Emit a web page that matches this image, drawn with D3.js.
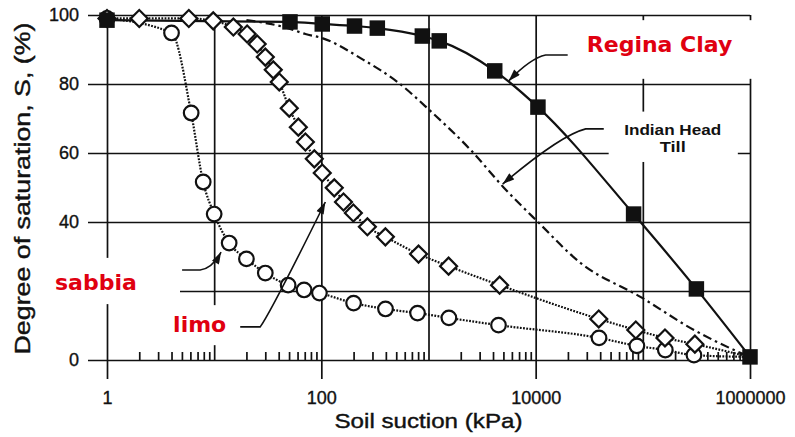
<!DOCTYPE html>
<html>
<head>
<meta charset="utf-8">
<script src="https://cdn.jsdelivr.net/npm/d3@7"></script>
<style>
  body { margin: 0; background: #fff; }
  svg { display: block; }
  .axis text { font-family: "Liberation Sans", Arial, sans-serif; fill: #111; stroke: #111; stroke-width: 0.35; }
  .axis line { stroke: #111; stroke-width: 1.7; }
  .title { font-family: "Liberation Sans", Arial, sans-serif; fill: #111; stroke: #111; stroke-width: 0.4; }
  .red-label { font-family: "DejaVu Sans", Verdana, sans-serif; font-weight: bold; fill: #e00010; }
</style>
</head>
<body>
<div id="container"></div>
<script>
// Regina Clay (filled squares, solid line)
const reginaSuction = [1, 51, 102, 204, 333, 876, 1260, 4150, 10500, 82000, 316000, 1000000];
const reginaSat = [98.5, 98, 97.4, 96.8, 96.2, 93.9, 92.5, 83.8, 73.3, 42.3, 20.6, 0.9];

// limo (open diamonds, dotted line)
const siltSuction = [1, 2, 5.8, 9.8, 15.1, 20.3, 25.2, 30, 35.6, 40.5, 50.2, 61, 71, 86, 102, 132, 161, 199, 269, 396, 807, 1540, 4610, 38800, 86000, 161000, 306000];
const siltSat = [99, 99, 99, 98.3, 96.5, 94.5, 91.6, 87.8, 84.1, 80.6, 73, 67.5, 63.2, 58.3, 54.2, 49.9, 45.8, 42.6, 38.6, 35.7, 30.7, 27.2, 21.7, 11.9, 8.7, 6.4, 4.6];

// sabbia (open circles, dotted line)
const sandSuction = [1, 4, 6.1, 7.9, 10, 13.8, 20, 30, 49, 69, 96, 200, 397, 790, 1550, 4500, 39000, 88000, 162000, 300000];
const sandSat = [99, 94.8, 71.6, 51.6, 42.3, 33.9, 29.3, 25.2, 21.7, 20.3, 19.4, 16.5, 14.8, 13.6, 12.2, 10.1, 6.4, 4.1, 2.9, 1.4];

// Indian Head Till (dash-dot line, no markers)
const tillSuction = [20, 45, 71, 102, 247, 513, 1040, 2470, 5000, 10500, 26300, 95000, 300000, 710000, 1000000];
const tillSat = [98.5, 96.5, 94.5, 93.3, 87, 80.6, 72.2, 60.9, 50.1, 40, 28.1, 18.3, 8.7, 2.9, 0.9];

// dotted curves all run into the last Regina point
const endSuction = 1000000;
const endSat = 0.9;

const yTicks = [0, 20, 40, 60, 80, 100];
const yLabels = [0, 40, 60, 80, 100];   // 20 is covered by the "sabbia" label in the original
const xLabelTicks = [1, 100, 10000, 1000000];
const xGridTicks = [10, 1000, 100000];

const width = 795, height = 437;
const margin = { top: 15, right: 45, bottom: 77, left: 107 };
const stub = 19;

const svg = d3.select('#container').append('svg')
  .attr('width', width)
  .attr('height', height);

const x = d3.scaleLog().domain([1, 1e6]).range([margin.left, width - margin.right]);
const y = d3.scaleLinear().domain([0, 100]).range([height - margin.bottom, margin.top]);

const x0 = margin.left - stub;
const xEnd = x(1e6);
const yBottom = y(0);

// horizontal grid + y labels
svg.append('g')
  .attr('class', 'axis')
  .attr('transform', `translate(${x0},0)`)
  .call(d3.axisLeft(y).tickValues(yTicks)
    .tickFormat(d => yLabels.includes(d) ? d : '')
    .tickSize(-(xEnd - x0)).tickPadding(9))
  .call(g => g.select('.domain').remove())
  .call(g => g.selectAll('text').filter(d => !yLabels.includes(d)).remove())
  .selectAll('text')
  .style('font-size', '18px');

// labelled decades, lines run below the axis
svg.append('g')
  .attr('class', 'axis')
  .attr('transform', `translate(0,${yBottom + stub})`)
  .call(d3.axisBottom(x).tickValues(xLabelTicks).tickFormat(d3.format('d'))
    .tickSize(-(yBottom + stub - margin.top)).tickPadding(12))
  .call(g => g.select('.domain').remove())
  .selectAll('text')
  .style('font-size', '18px');

// other decades
svg.append('g')
  .attr('class', 'axis')
  .attr('transform', `translate(0,${yBottom})`)
  .call(d3.axisBottom(x).tickValues(xGridTicks).tickFormat('').tickSize(-(yBottom - margin.top)))
  .call(g => g.select('.domain').remove());

// minor ticks
const minor = [];
for (let d = 1; d < 1e6; d *= 10) {
  for (let k = 2; k <= 9; k++) minor.push(d * k);
}
svg.append('g')
  .attr('class', 'axis')
  .attr('transform', `translate(0,${yBottom})`)
  .call(d3.axisBottom(x).tickValues(minor).tickFormat('').tickSize(-8))
  .call(g => g.select('.domain').remove());

// axis titles
svg.append('text')
  .attr('class', 'title')
  .attr('x', (x(1) + xEnd) / 2)
  .attr('y', 428)
  .attr('text-anchor', 'middle')
  .attr('textLength', 188)
  .attr('lengthAdjust', 'spacingAndGlyphs')
  .style('font-size', '21px')
  .text('Soil suction (kPa)');

svg.append('text')
  .attr('class', 'title')
  .attr('transform', `translate(30,${(y(0) + y(100)) / 2 + 1}) rotate(-90)`)
  .attr('text-anchor', 'middle')
  .attr('textLength', 332)
  .attr('lengthAdjust', 'spacingAndGlyphs')
  .style('font-size', '22px')
  .text('Degree of saturation, S, (%)');

// white patches that sit over the grid behind the labels
const patches = [
  { x1: 23000, x2: 1.3e6, y1: 98.5, y2: 81.5 },
  { x1: 48000, x2: 770000, y1: 72, y2: 57.4 },
  { x1: 0.237, x2: 4.8, y1: 29.6, y2: 16.2 },
  { x1: 3.5, x2: 16, y1: 15.9, y2: 4.3 }
];
svg.append('g')
  .selectAll('rect')
  .data(patches)
  .enter()
  .append('rect')
  .attr('x', d => x(d.x1))
  .attr('y', d => y(d.y1))
  .attr('width', d => x(d.x2) - x(d.x1))
  .attr('height', d => y(d.y2) - y(d.y1))
  .attr('fill', '#fff');

// data lines
const toPts = (xs, ys) => xs.map((v, i) => [v, ys[i]]);
const line = d3.line()
  .x(d => x(d[0]))
  .y(d => y(d[1]))
  .curve(d3.curveMonotoneX);

const reginaPts = toPts(reginaSuction, reginaSat);
const siltPts = toPts(siltSuction, siltSat);
const sandPts = toPts(sandSuction, sandSat);
const tillPts = toPts(tillSuction, tillSat);

svg.append('path')
  .attr('d', line(tillPts))
  .attr('fill', 'none')
  .attr('stroke', '#111')
  .attr('stroke-width', 2.2)
  .attr('stroke-dasharray', '9,4,2.5,4');

svg.append('path')
  .attr('d', line(sandPts.concat([[endSuction, endSat]])))
  .attr('fill', 'none')
  .attr('stroke', '#111')
  .attr('stroke-width', 2.2)
  .attr('stroke-dasharray', '1.8,1.4');

svg.append('path')
  .attr('d', line(siltPts.concat([[endSuction, endSat]])))
  .attr('fill', 'none')
  .attr('stroke', '#111')
  .attr('stroke-width', 2.2)
  .attr('stroke-dasharray', '1.8,1.4');

svg.append('path')
  .attr('d', line(reginaPts))
  .attr('fill', 'none')
  .attr('stroke', '#111')
  .attr('stroke-width', 2.2);

// markers
svg.append('g')
  .selectAll('circle')
  .data(sandPts)
  .enter()
  .append('circle')
  .attr('cx', d => x(d[0]))
  .attr('cy', d => y(d[1]))
  .attr('r', 7.3)
  .attr('fill', '#fff')
  .attr('stroke', '#111')
  .attr('stroke-width', 2.2);

svg.append('g')
  .selectAll('path')
  .data(siltPts)
  .enter()
  .append('path')
  .attr('d', d3.symbol(d3.symbolSquare, 144))
  .attr('transform', d => `translate(${x(d[0])},${y(d[1])}) rotate(45)`)
  .attr('fill', '#fff')
  .attr('stroke', '#111')
  .attr('stroke-width', 2.2);

svg.append('g')
  .selectAll('path')
  .data(reginaPts)
  .enter()
  .append('path')
  .attr('d', d3.symbol(d3.symbolSquare, 240))
  .attr('transform', d => `translate(${x(d[0])},${y(d[1])})`)
  .attr('fill', '#111');

// annotations
svg.append('defs').append('marker')
  .attr('id', 'arrow')
  .attr('viewBox', '0 0 12 8')
  .attr('refX', 12)
  .attr('refY', 4)
  .attr('markerWidth', 13)
  .attr('markerHeight', 8)
  .attr('markerUnits', 'userSpaceOnUse')
  .attr('orient', 'auto')
  .append('path')
  .attr('d', 'M0,0 L12,4 L0,8 Z')
  .attr('fill', '#111');

const arrows = [
  { start: [19900, 88.4], bend: [12400, 88.4], ctrl: [8980, 87.5], tip: [5600, 80.9] },
  { start: [43200, 67], bend: [29300, 67], ctrl: [17100, 65.2], tip: [4920, 51] },
  { start: [5.02, 26.1], bend: [7.4, 26.1], ctrl: [9.6, 26.5], tip: [11.6, 31.3] },
  { start: [17.5, 9.6], bend: [26.9, 9.6], ctrl: [34, 14], tip: [109, 45.8] }
];
svg.append('g')
  .selectAll('path')
  .data(arrows)
  .enter()
  .append('path')
  .attr('d', d => {
    const p = d3.path();
    p.moveTo(x(d.start[0]), y(d.start[1]));
    p.lineTo(x(d.bend[0]), y(d.bend[1]));
    p.quadraticCurveTo(x(d.ctrl[0]), y(d.ctrl[1]), x(d.tip[0]), y(d.tip[1]));
    return p.toString();
  })
  .attr('fill', 'none')
  .attr('stroke', '#111')
  .attr('stroke-width', 1.6)
  .attr('marker-end', 'url(#arrow)');

svg.append('text')
  .attr('class', 'red-label')
  .attr('x', x(30000))
  .attr('y', y(89.3))
  .style('font-size', '22px')
  .text('Regina Clay');

svg.append('text')
  .attr('class', 'red-label')
  .attr('x', x(0.327))
  .attr('y', y(20.3))
  .style('font-size', '22px')
  .text('sabbia');

svg.append('text')
  .attr('class', 'red-label')
  .attr('x', x(4.14))
  .attr('y', y(8.1))
  .style('font-size', '22px')
  .text('limo');

const till = svg.append('g')
  .style('font-family', '"Liberation Sans", Arial, sans-serif')
  .style('font-weight', 'bold')
  .style('font-size', '15px')
  .style('fill', '#111');
till.append('text')
  .attr('x', x(190000))
  .attr('y', y(65.2))
  .attr('text-anchor', 'middle')
  .attr('textLength', 97)
  .attr('lengthAdjust', 'spacingAndGlyphs')
  .text('Indian Head');
till.append('text')
  .attr('x', x(190000))
  .attr('y', y(60.3))
  .attr('text-anchor', 'middle')
  .attr('textLength', 26)
  .attr('lengthAdjust', 'spacingAndGlyphs')
  .text('Till');
</script>
</body>
</html>
